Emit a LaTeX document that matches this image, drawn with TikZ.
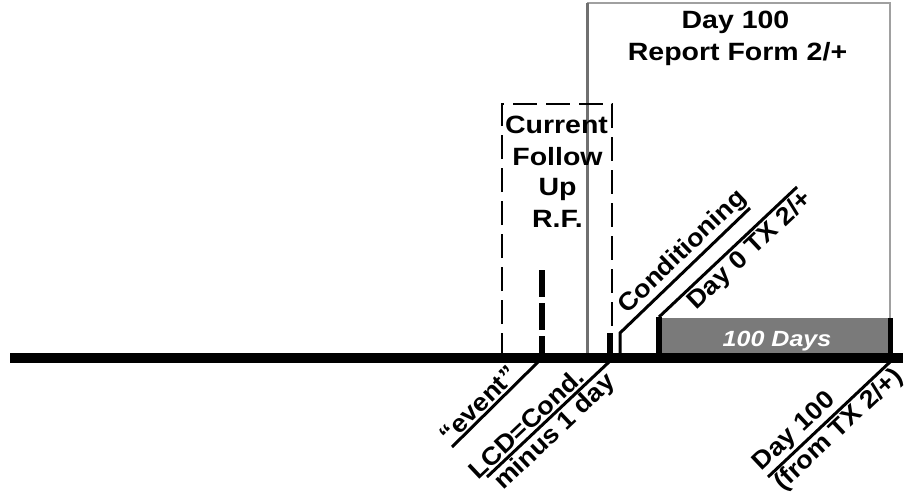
\documentclass[tikz,border=0pt]{standalone}
\usepackage{fontspec}
\newfontfamily\hf[FakeStretch=1.14]{Liberation Sans}
\newfontfamily\df[FakeStretch=1.08]{Liberation Sans}
\definecolor{daysgray}{HTML}{7A7A7A}
\definecolor{boxleft}{HTML}{707070}
\definecolor{boxedge}{HTML}{A0A0A0}
\begin{document}
\begin{tikzpicture}[x=1pt,y=-1pt,
  htext/.style={font=\hf\bfseries\fontsize{25}{30}\selectfont, inner sep=0pt, anchor=base},
  dtext/.style={font=\df\bfseries\fontsize{25}{30}\selectfont, sloped, inner sep=1.5pt},
  axis/.style={line width=10pt},
  lbl/.style={line width=3pt},
  dbox/.style={line width=2.7pt, dash pattern=on 24pt off 9pt},
  evtick/.style={line width=6pt, dash pattern=on 27pt off 6pt},
]
\useasboundingbox (0,0) rectangle (908,496);
% big report box
\coordinate (bb1) at (587,353);
\coordinate (bb2) at (587,3);
\coordinate (bb3) at (890,3);
\coordinate (bb4) at (890,318);
\draw[line width=2pt, boxedge] (bb2) -- (bb3) -- (bb4);
\draw[line width=3pt, boxleft] (bb1) -- (bb2);
\node[htext] (t1) at (735.5,28.3) {Day 100};
\node[htext] (t2) at (737.5,60) {Report Form 2/+};
% 100 days box
\node[fill=daysgray, minimum width=228pt, minimum height=35pt, anchor=north west, inner sep=0pt] (days) at (662,318) {};
\node[htext, font=\hf\bfseries\itshape\fontsize{22}{26}\selectfont, text=white] (dayslbl) at (777,346) {100 Days};
% dashed current follow up box
\coordinate (d1) at (502,357);
\coordinate (d2) at (502,104);
\coordinate (d3) at (612,104);
\coordinate (d4) at (612,357);
\draw[dbox] (d1) -- (d2) -- (d3) -- (d4);
\node[htext] (c1) at (556.5,133) {Current};
\node[htext] (c2) at (557.5,165) {Follow};
\node[htext] (c3) at (557.5,195) {Up};
\node[htext] (c4) at (557.5,227) {R.F.};
% event tick
\coordinate (ev0) at (542,270);
\coordinate (ev1) at (542,357);
\draw[evtick] (ev0) -- (ev1);
% LCD tick
\coordinate (lc0) at (610,333);
\coordinate (lc1) at (610,357);
\draw[line width=6pt] (lc0) -- (lc1);
% conditioning
\coordinate (co0) at (620,357);
\coordinate (co1) at (620,333);
\coordinate (co2) at (750,208);
\draw[lbl] (co0) -- (co1) -- (co2) node[dtext, pos=0.56, above] (cond) {Conditioning};
% day 0
\coordinate (dz0) at (659,357);
\coordinate (dz1) at (659,317);
\coordinate (dz2) at (797,187);
\draw[line width=6pt] (dz0) -- (dz1);
\draw[lbl] (dz1) -- (dz2) node[dtext, pos=0.59, below] (day0) {Day 0 TX 2/+};
% right tick of 100 days
\coordinate (rt0) at (890,318);
\coordinate (rt1) at (890,357);
\draw[line width=5pt] (rt0) -- (rt1);
% axis
\coordinate (axL) at (10,358);
\coordinate (axR) at (903,358);
\draw[axis] (axL) -- (axR);
% lower labels
\coordinate (e0) at (538,362);
\coordinate (e1) at (452,447);
\draw[lbl] (e1) -- (e0) node[dtext, pos=0.4, above] (evlbl) {“event”};
\coordinate (l0) at (609,362);
\coordinate (l1) at (487,477);
\draw[lbl] (l1) -- (l0) node[dtext, pos=0.39, above] (lcdlbl) {LCD=Cond.}
  node[dtext, pos=0.48, below] (minlbl) {minus 1 day};
\coordinate (h0) at (890,362);
\coordinate (h1) at (768,477);
\draw[lbl] (h1) -- (h0) node[dtext, pos=0.30, above] (d100lbl) {Day 100}
  node[dtext, pos=0.50, below] (fromlbl) {(from TX 2/+)};
\end{tikzpicture}
\end{document}
